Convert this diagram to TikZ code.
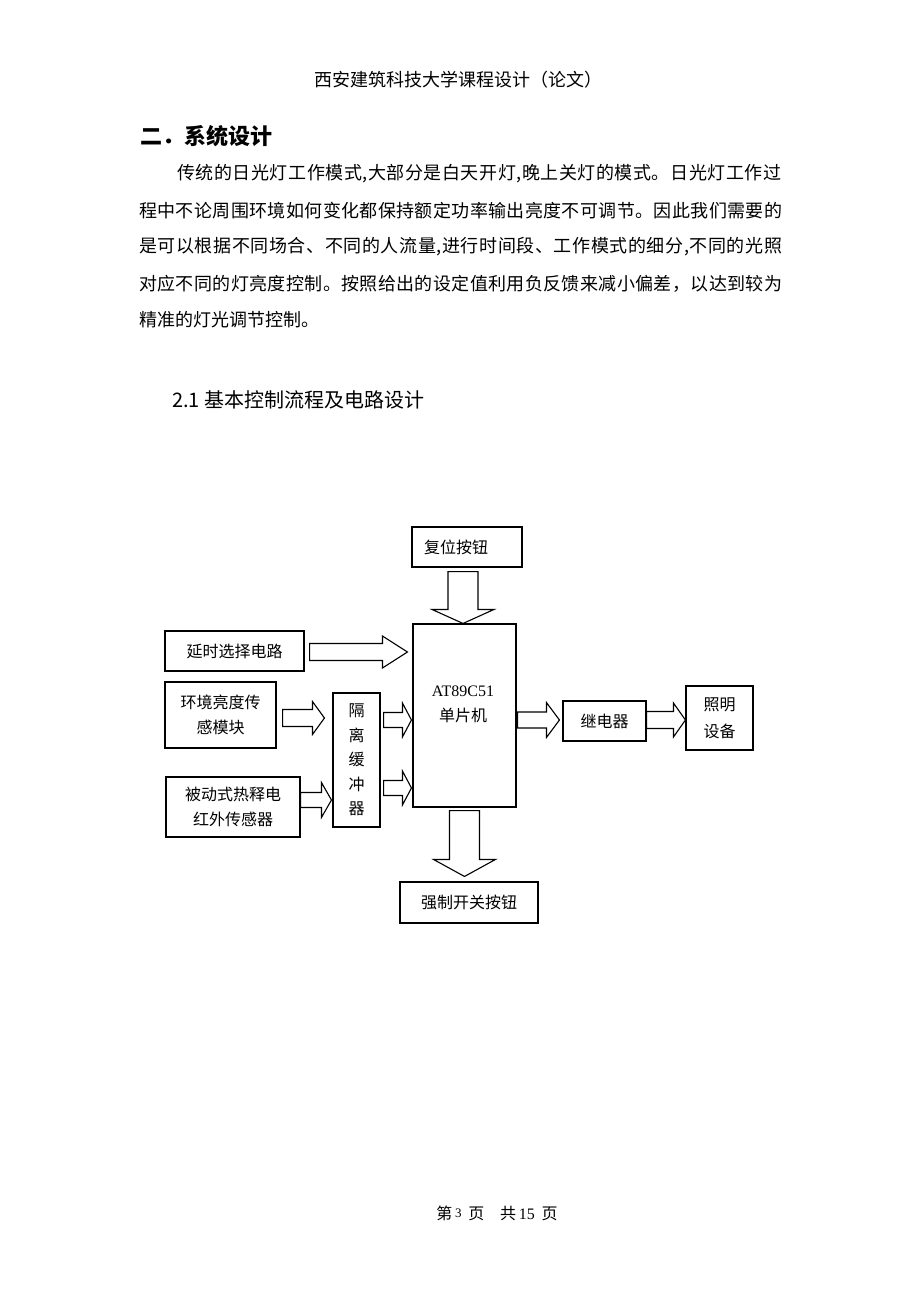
\documentclass[tikz,border=0pt]{standalone}
\usepackage{fontspec}
\setmainfont{Liberation Serif}
\newfontfamily\cjk{Noto Sans CJK SC}
\usetikzlibrary{calc}

% spread the characters of one line over a given width
\newcommand\spreadline[2]{\hbox to #1{\spreadaux#2\relax}}
\def\spreadaux#1{\ifx\relax#1\unskip\else#1\hfil\expandafter\spreadaux\fi}

\tikzset{
  box/.style={draw, line width=1.1pt, inner sep=0pt, align=center,
    font=\cjk\fontsize{16}{25}\selectfont},
  bodyline/.style={anchor=west, inner sep=0pt, font=\cjk\fontsize{18}{22}\selectfont},
  harrow/.style args={#1/#2/#3}{line width=1.1pt, to path={
    let \p1=(\tikztostart), \p2=(\tikztotarget) in
    (\x1,{\y1+#1pt}) -- ({\x2-#3pt},{\y1+#1pt}) -- ({\x2-#3pt},{\y1+#2pt}) -- (\x2,\y1)
    -- ({\x2-#3pt},{\y1-#2pt}) -- ({\x2-#3pt},{\y1-#1pt}) -- (\x1,{\y1-#1pt}) -- cycle}},
  varrow/.style args={#1/#2/#3}{line width=1.1pt, to path={
    let \p1=(\tikztostart), \p2=(\tikztotarget) in
    ({\x1-#1pt},\y1) -- ({\x1-#1pt},{\y2+#3pt}) -- ({\x1-#2pt},{\y2+#3pt}) -- (\x1,\y2)
    -- ({\x1+#2pt},{\y2+#3pt}) -- ({\x1+#1pt},{\y2+#3pt}) -- ({\x1+#1pt},\y1) -- cycle}}
}

\begin{document}
\begin{tikzpicture}[x=1pt,y=-1pt]
\fill[white] (0,0) rectangle (920,1302);
\useasboundingbox (0,0) rectangle (920,1302);

% page text
\node[font=\cjk\fontsize{18}{22}\selectfont] (header) at (458,80) {西安建筑科技大学课程设计（论文）};
\node[anchor=west, inner sep=0pt, font=\cjk\bfseries\fontsize{22}{26}\selectfont] (sec) at (140,136) {二．系统设计};
\node[bodyline] (par1) at (177,174) {\spreadline{604pt}{传统的日光灯工作模式,大部分是白天开灯,晚上关灯的模式。日光灯工作过}};
\node[bodyline] (par2) at (139,211) {\spreadline{643pt}{程中不论周围环境如何变化都保持额定功率输出亮度不可调节。因此我们需要的}};
\node[bodyline] (par3) at (139,247) {\spreadline{643pt}{是可以根据不同场合、不同的人流量,进行时间段、工作模式的细分,不同的光照}};
\node[bodyline] (par4) at (139,284) {\spreadline{643pt}{对应不同的灯亮度控制。按照给出的设定值利用负反馈来减小偏差，以达到较为}};
\node[bodyline] (par5) at (139,320) {精准的灯光调节控制。};
\node[anchor=west, inner sep=0pt, font=\cjk\fontsize{20}{24}\selectfont] (subsec) at (172,400) {2.1 基本控制流程及电路设计};

% blocks
\node[box, minimum width=110pt, minimum height=40pt] (reset) at (467,547) {复位按钮\hspace{22pt}};
\node[box, minimum width=103pt, minimum height=183pt] (mcu) at (464.5,715.5) {};
\node[align=center, inner sep=0pt, font=\fontsize{16}{25}\selectfont] (mcutext) at (463,704) {AT89C51\\{\cjk 单片机}};
\node[box, minimum width=139pt, minimum height=40pt] (delay) at (234.5,651) {延时选择电路};
\node[box, minimum width=111pt, minimum height=66pt] (light) at (220.5,715) {环境亮度传\\感模块};
\node[box, minimum width=134pt, minimum height=60pt] (pir) at (233,807) {被动式热释电\\红外传感器};
\node[box, minimum width=47pt, minimum height=134pt, font=\cjk\fontsize{16}{24.5}\selectfont] (buffer) at (356.5,760) {隔\\离\\缓\\冲\\器};
\node[box, minimum width=138pt, minimum height=41pt] (force) at (469,902.5) {强制开关按钮};
\node[box, minimum width=83pt, minimum height=40pt] (relay) at (604.5,721) {继电器};
\node[box, minimum width=67pt, minimum height=64pt, font=\cjk\fontsize{16}{27}\selectfont] (lamp) at (719.5,718) {照明\\设备};

% block arrows
\draw[varrow=15/31/14] ([shift={(-4,4)}]reset.south) to (mcu.north);
\draw[varrow=15/31/17] ([shift={(0,3)}]mcu.south) to ([shift={(0,-5)}]force.north);
\draw[harrow=8.5/16/25] ([shift={(5,1)}]delay.east) to ([shift={(-5,0)}]mcu.west);
\draw[harrow=8.5/16.5/12] ([shift={(6,3)}]light.east) to ([shift={(-8,0)}]buffer.west);
\draw[harrow=7.5/17.5/10] ([shift={(0,-7)}]pir.east) to ([shift={(-1,0)}]buffer.west);
\draw[harrow=7.5/17/9] ([shift={(3,-40)}]buffer.east) to ([shift={(-1,0)}]mcu.west);
\draw[harrow=7.5/17/9] ([shift={(3,28)}]buffer.east) to ([shift={(-1,0)}]mcu.west);
\draw[harrow=8/17.5/13] ([shift={(1,-1)}]mcu.east |- relay.west) to ([shift={(-3,0)}]relay.west);
\draw[harrow=8.5/17/12] ([shift={(0,-1)}]relay.east) to (lamp.west);

% footer
\node[font=\fontsize{16}{20}\selectfont] (footer) at (497,1213) {{\cjk 第}\,\raisebox{2pt}{\fontsize{13}{13}\selectfont 3}\, {\cjk 页}\quad{\cjk 共}\,15\, {\cjk 页}};
\end{tikzpicture}
\end{document}
